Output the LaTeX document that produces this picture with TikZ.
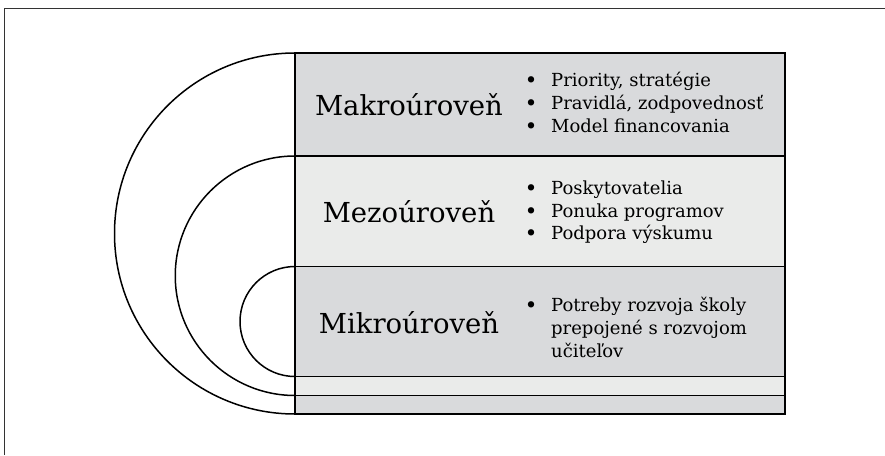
\documentclass[tikz,border=0pt]{standalone}
\usepackage{fontspec}
\setmainfont{DejaVu Serif}
\definecolor{darkfill}{HTML}{D9DADC}
\definecolor{lightfill}{HTML}{EAEBEA}
\tikzset{
  levelbox/.style={draw=black, line width=1.8pt, anchor=north west, minimum width=490pt, inner sep=0pt, outer sep=0pt},
  arcline/.style={draw=black, line width=1.5pt},
  title/.style={anchor=base, inner sep=0pt, font=\fontsize{27.5}{32}\selectfont},
  listtext/.style={anchor=west, inner sep=0pt, font=\fontsize{18}{22.8}\selectfont},
}
\newcommand{\bul}{\makebox[8pt]{\textbf{•}}\hspace{16pt}}
\newcommand{\nobul}{\hspace{24pt}}
\begin{document}
\begin{tikzpicture}[x=1pt,y=-1pt]
\useasboundingbox (0,0) rectangle (885,455);
% frame
\draw[line width=1pt, black!80] (4,455) -- (4,8) -- (885,8);
% boxes
\node[levelbox, fill=darkfill, minimum height=103pt] (makro) at (295,53) {};
\node[levelbox, fill=lightfill, minimum height=110.5pt] (mezo) at (295,156) {};
\node[levelbox, fill=darkfill, minimum height=110pt] (mikro) at (295,266.5) {};
\node[levelbox, fill=lightfill, minimum height=19pt] (strip1) at (295,376.5) {};
\node[levelbox, fill=darkfill, minimum height=18.5pt] (strip2) at (295,395.5) {};
% arcs
\draw[arcline] (makro.north west) arc[start angle=90, end angle=270, radius=180.5pt];
\draw[arcline] (mezo.north west) arc[start angle=90, end angle=270, radius=119.75pt];
\draw[arcline] (mikro.north west) arc[start angle=90, end angle=270, radius=55pt];
% titles
\node[title] (tmakro) at (409,115) {Makroúroveň};
\node[title] (tmezo) at (409,222) {Mezoúroveň};
\node[title] (tmikro) at (409,333) {Mikroúroveň};
% lists
\node[listtext] (lmakro) at (527,105) {\begin{tabular}{@{}l@{}}
\bul Priority, stratégie\\
\bul Pravidlá, zodpovednosť\\
\bul Model financovania
\end{tabular}};
\node[listtext] (lmezo) at (527,212.5) {\begin{tabular}{@{}l@{}}
\bul Poskytovatelia\\
\bul Ponuka programov\\
\bul Podpora výskumu
\end{tabular}};
\node[listtext] (lmikro) at (527,330) {\begin{tabular}{@{}l@{}}
\bul Potreby rozvoja školy\\
\nobul prepojené s rozvojom\\
\nobul učiteľov
\end{tabular}};
\end{tikzpicture}
\end{document}
